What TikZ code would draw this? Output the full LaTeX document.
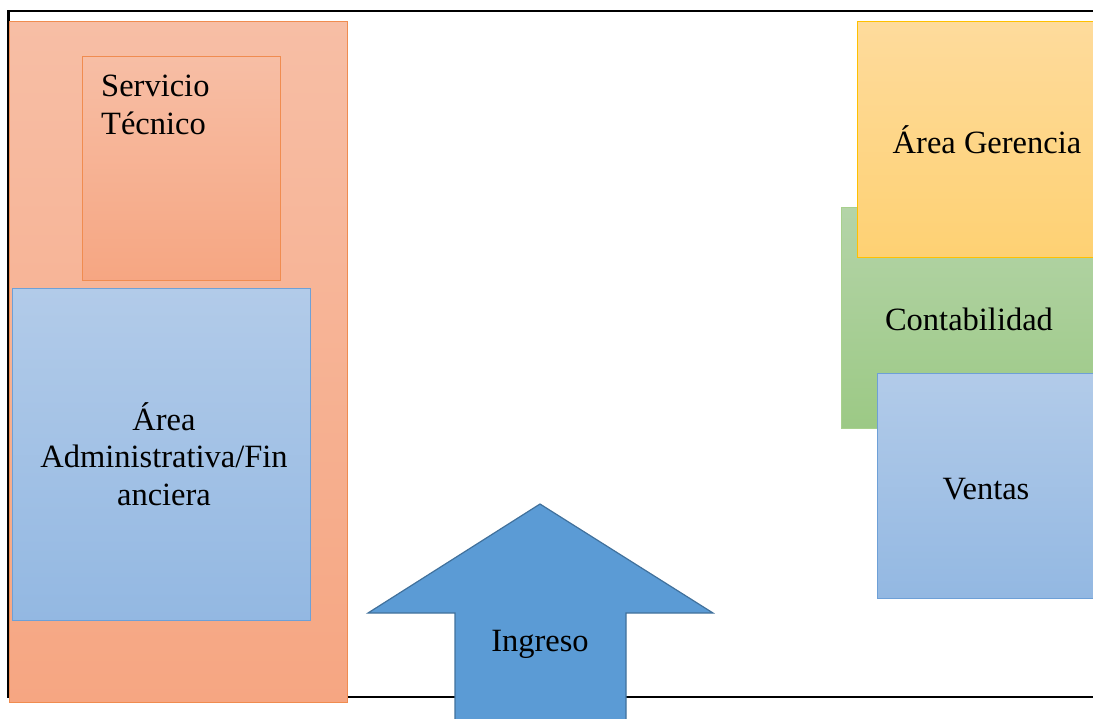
\documentclass[tikz,border=0pt]{standalone}
\usepackage{fontspec}
\setmainfont{Liberation Serif}

\definecolor{salmonT}{RGB}{247,190,165}
\definecolor{salmonB}{RGB}{246,166,130}
\definecolor{salmonD}{RGB}{240,140,80}
\definecolor{blueT}{RGB}{178,203,233}
\definecolor{blueB}{RGB}{147,184,226}
\definecolor{blueD}{RGB}{110,160,215}
\definecolor{goldT}{RGB}{254,219,156}
\definecolor{goldB}{RGB}{254,209,115}
\definecolor{goldD}{RGB}{255,192,0}
\definecolor{greenT}{RGB}{180,212,168}
\definecolor{greenB}{RGB}{156,201,133}
\definecolor{greenD}{RGB}{168,208,141}
\definecolor{arrowF}{RGB}{91,155,213}
\definecolor{arrowD}{RGB}{65,113,156}

\tikzstyle{area} = [draw, rectangle, anchor=north west,
                    inner sep=0pt, line width=1.2pt]
\tikzstyle{lbl} = [inner sep=0pt, align=center,
                   font=\fontsize{32.5}{37.5}\selectfont]

\begin{document}
\begin{tikzpicture}[x=1pt,y=-1pt]

\useasboundingbox (0,0) rectangle (1093,718);
\clip (0,0) rectangle (1093,718);

% frame
\draw[black,line width=2.5pt]
     (1110,11) -- (8.5,11) -- (8.5,697) -- (1110,697);

% left column
\node[area,draw=salmonD,top color=salmonT,bottom color=salmonB,
      minimum width=338pt,minimum height=681pt]
     at (9,21) (izq) {};
\node[area,draw=salmonD,top color=salmonT,bottom color=salmonB,
      minimum width=198pt,minimum height=224pt]
     at (82,56) (serv) {};
\node[lbl,align=left,anchor=west] at (101,105) (servTxt)
     {Servicio\\Técnico};
\node[area,draw=blueD,top color=blueT,bottom color=blueB,
      minimum width=298pt,minimum height=332pt]
     at (12,288) (admin) {};
\node[lbl] at (164,454) (adminTxt)
     {Área\\Administrativa/Fin\\anciera};

% right column
\node[area,draw=greenD,top color=greenT,bottom color=greenB,
      minimum width=256pt,minimum height=221pt]
     at (841,207) (conta) {};
\node[lbl] at (969,319) (contaTxt) {Contabilidad};
\node[area,draw=goldD,top color=goldT,bottom color=goldB,
      minimum width=260pt,minimum height=236pt]
     at (857,21) (ger) {};
\node[lbl] at (987,140) (gerTxt) {Área Gerencia};
\node[area,draw=blueD,top color=blueT,bottom color=blueB,
      minimum width=219pt,minimum height=225pt]
     at (877,373) (ventas) {};
\node[lbl] at (986,489) (ventasTxt) {Ventas};

% arrow
\draw[fill=arrowF,draw=arrowD,line width=1.2pt]
     (455,730) -- (455,613) -- (368,613) -- (540,504)
     -- (713,613) -- (626,613) -- (626,730) -- cycle;
\node[lbl] at (540,644) (ingreso) {Ingreso};

\end{tikzpicture}
\end{document}
